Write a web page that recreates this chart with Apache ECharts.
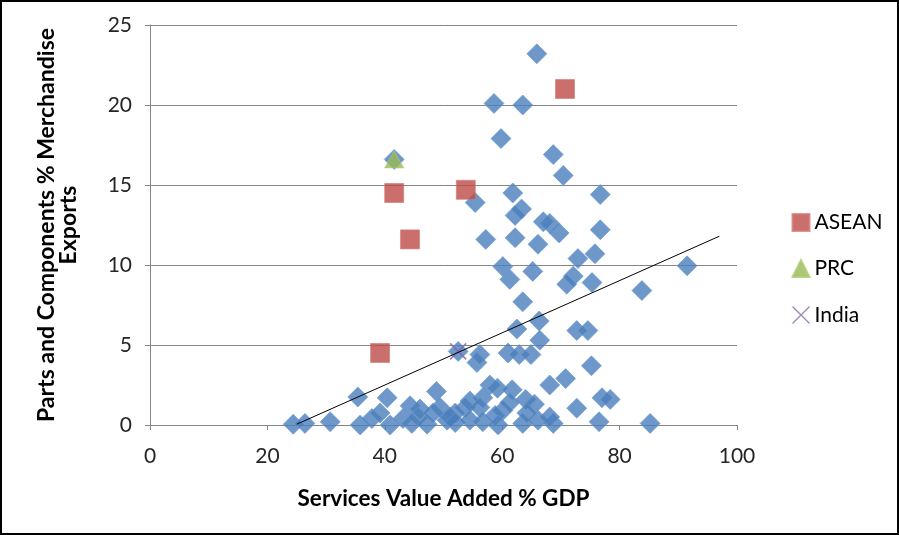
<!DOCTYPE html>
<html>
<head>
<meta charset="utf-8">
<script src="https://cdn.jsdelivr.net/npm/echarts@6/dist/echarts.min.js"></script>
<style>
  html, body { margin: 0; padding: 0; background: #fff; }
  #chart { width: 899px; height: 535px; }
</style>
</head>
<body>
<div id="chart"></div>
<script>
// Economies in the sample: services value added (% of GDP) vs parts & components share of merchandise exports
const otherX = [65.9, 58.6, 63.5, 59.8, 68.7, 70.4, 61.8, 76.7, 55.4, 63.3, 62.2, 67.0, 68.1, 69.7, 76.7, 57.2, 62.2, 66.1, 75.8, 72.9,
                60.1, 61.3, 65.2, 72.1, 71.0, 75.3, 83.8, 91.5, 63.5, 62.5, 66.3, 72.7, 74.6, 41.6, 52.5, 55.7, 56.2, 61.0, 62.9, 64.9,
                66.4, 75.2, 48.8, 57.9, 59.2, 61.7, 68.1, 70.8, 64.0, 65.5, 56.7, 54.5, 53.7, 56.2, 60.1, 61.3, 72.7, 77.0, 78.4, 24.4,
                26.4, 30.7, 35.4, 40.4, 35.8, 37.8, 39.2, 40.9, 43.1, 44.3, 46.0, 44.6, 45.7, 47.2, 48.2, 49.4, 50.6, 52.0, 51.1, 52.0,
                54.5, 56.7, 58.8, 59.3, 63.5, 66.1, 68.7, 64.2, 68.1, 76.5, 85.2];
const otherY = [23.2, 20.1, 20.0, 17.9, 16.9, 15.6, 14.5, 14.4, 13.9, 13.5, 13.1, 12.7, 12.6, 12.0, 12.2, 11.6, 11.7, 11.3, 10.7, 10.4,
                9.9, 9.1, 9.6, 9.3, 8.8, 8.9, 8.4, 9.95, 7.7, 6.0, 6.5, 5.9, 5.9, 16.6, 4.6, 3.9, 4.4, 4.5, 4.4, 4.4,
                5.3, 3.7, 2.1, 2.5, 2.3, 2.2, 2.5, 2.9, 1.6, 1.3, 1.7, 1.5, 1.1, 1.1, 0.9, 1.4, 1.05, 1.7, 1.6, 0.05,
                0.1, 0.2, 1.75, 1.7, 0.0, 0.4, 0.75, 0.0, 0.4, 1.2, 1.0, 0.1, 0.5, 0.05, 0.75, 1.1, 0.3, 0.75, 0.5, 0.15,
                0.3, 0.2, 0.6, 0.0, 0.1, 0.3, 0.1, 0.75, 0.5, 0.2, 0.1];

const aseanX = [39.2, 41.6, 44.3, 53.8, 70.7];
const aseanY = [4.5, 14.5, 11.6, 14.7, 21.0];

const prcX = [41.6];
const prcY = [16.6];

const indiaX = [52.5];
const indiaY = [4.6];

// Linear trend across all economies (end points)
const trendX = [25, 97];
const trendY = [0.05, 11.8];

const xTicks = [0, 20, 40, 60, 80, 100];
const yTicks = [0, 5, 10, 15, 20, 25];

const pairs = (xs, ys) => xs.map((x, i) => [x, ys[i]]);

const crossPath = 'path://M0,0L10,10M10,0L0,10';
const FONT = 'Lato';

const chart = echarts.init(document.getElementById('chart'), null, { renderer: 'canvas' });
chart.setOption({
  animation: false,
  backgroundColor: '#ffffff',
  grid: { left: 150, right: 162, top: 25, bottom: 110 },
  xAxis: {
    type: 'value',
    min: xTicks[0], max: xTicks[xTicks.length - 1], interval: 20,
    name: 'Services Value Added % GDP',
    nameLocation: 'middle', nameGap: 62,
    nameTextStyle: { fontFamily: FONT, fontWeight: 'bold', fontSize: 22.5, color: '#000' },
    axisLine: { lineStyle: { color: '#868686', width: 1 } },
    axisTick: { show: true, inside: false, length: 5, lineStyle: { color: '#868686' } },
    axisLabel: { fontFamily: FONT, fontSize: 21, color: '#262626', margin: 21 },
    splitLine: { show: false }
  },
  yAxis: {
    type: 'value',
    min: yTicks[0], max: yTicks[yTicks.length - 1], interval: 5,
    name: 'Parts and Components % Merchandise\nExports',
    nameLocation: 'middle', nameGap: 70, nameRotate: 90,
    nameTextStyle: { fontFamily: FONT, fontWeight: 'bold', fontSize: 23, color: '#000', lineHeight: 22, align: 'center' },
    axisLine: { show: true, lineStyle: { color: '#868686', width: 1 } },
    axisTick: { show: true, inside: false, length: 5, lineStyle: { color: '#868686' } },
    axisLabel: { fontFamily: FONT, fontSize: 21, color: '#262626', margin: 18 },
    splitLine: { show: true, lineStyle: { color: '#868686', width: 1 } }
  },
  legend: {
    orient: 'vertical',
    left: 785, top: 207,
    itemGap: 25,
    itemWidth: 17, itemHeight: 17,
    textStyle: { fontFamily: FONT, fontSize: 21, color: '#000' },
    data: [
      { name: 'ASEAN', icon: 'rect' },
      { name: 'PRC', icon: 'triangle' },
      { name: 'India', icon: crossPath, itemStyle: { color: 'none', borderColor: '#8064a2', borderWidth: 1.2 } }
    ]
  },
  graphic: [{
    type: 'rect', z: 100, silent: true,
    shape: { x: 1, y: 1, width: 897, height: 533 },
    style: { fill: 'none', stroke: '#000', lineWidth: 2 }
  }],
  series: [
    {
      name: 'Other', type: 'scatter', symbol: 'diamond', symbolSize: 20,
      data: pairs(otherX, otherY),
      itemStyle: { color: '#4a7ebb', borderColor: '#6d98cc', borderWidth: 0.8 },
      z: 2
    },
    {
      name: 'ASEAN', type: 'scatter', symbol: 'rect', symbolSize: 19,
      data: pairs(aseanX, aseanY),
      itemStyle: { color: '#be4b48', borderColor: '#d27a78', borderWidth: 0.8 },
      z: 3
    },
    {
      name: 'PRC', type: 'scatter', symbol: 'triangle', symbolSize: [19, 17],
      data: pairs(prcX, prcY),
      itemStyle: { color: '#98b954', borderColor: '#aecb78', borderWidth: 0.8 },
      z: 3
    },
    {
      name: 'India', type: 'scatter', symbol: crossPath, symbolSize: 16,
      data: pairs(indiaX, indiaY),
      itemStyle: { color: 'none', borderColor: '#8064a2', borderWidth: 1.6 },
      z: 4
    },
    {
      name: 'Trend', type: 'line', data: pairs(trendX, trendY),
      symbol: 'none', silent: true,
      lineStyle: { color: '#000', width: 1 },
      z: 5
    }
  ]
});
</script>
</body>
</html>
